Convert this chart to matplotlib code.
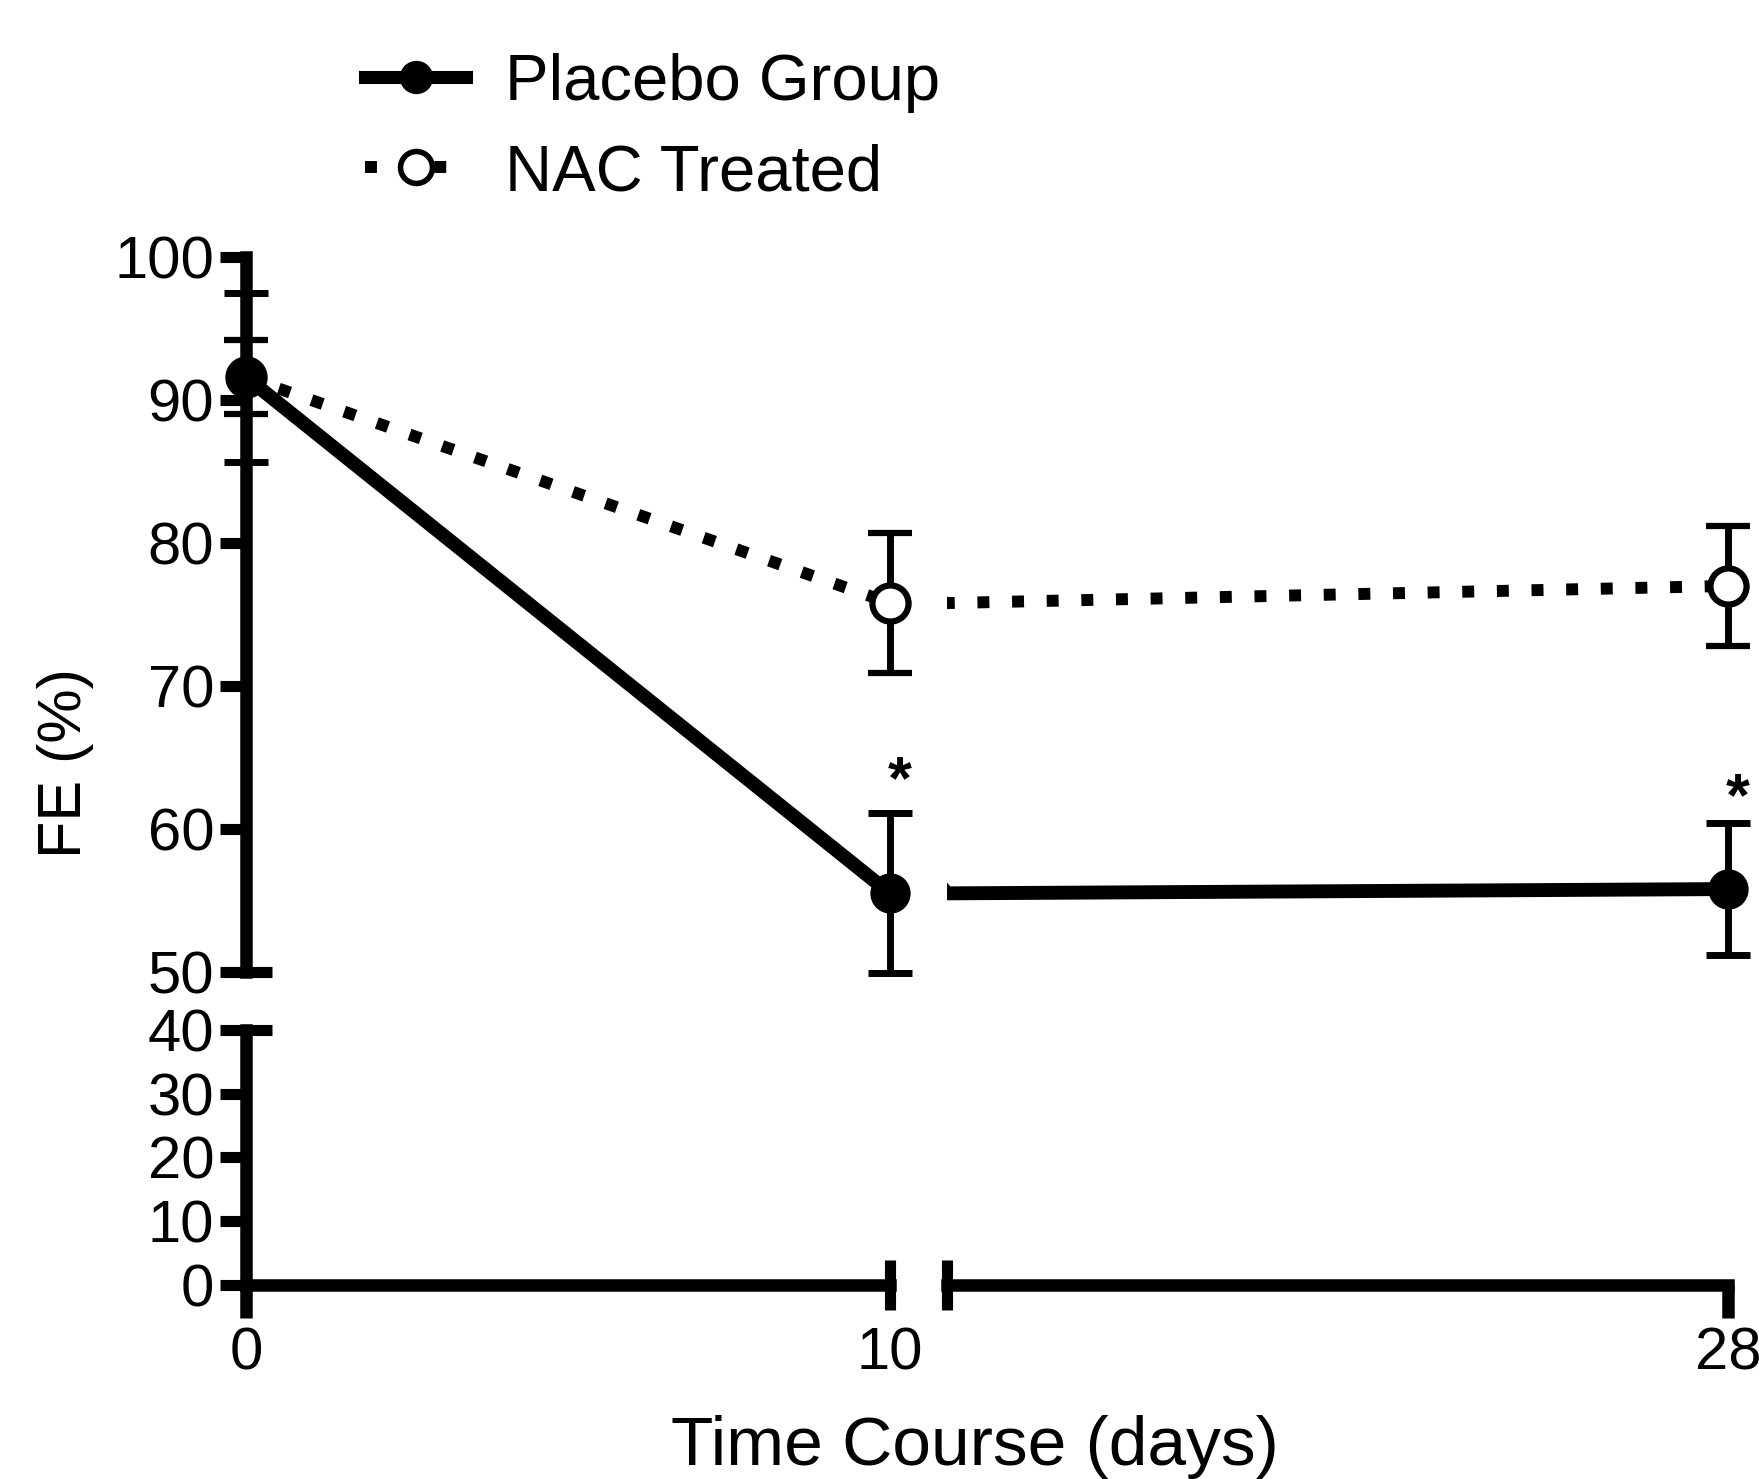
import matplotlib
matplotlib.use("Agg")
import matplotlib.pyplot as plt
from matplotlib.lines import Line2D

plt.rcParams['font.family'] = ['Liberation Sans', 'DejaVu Sans']

# data
days = [0, 10, 28]
placebo_mean = [91.6, 55.5, 55.8]
placebo_err = [5.9, 5.6, 4.6]
nac_mean = [91.6, 75.8, 77.0]
nac_err = [2.6, 4.9, 4.2]
labels = ['Placebo Group', 'NAC Treated']
sig_days = [10, 28]
sig_y = [64.4, 63.2]

W, H = 1759, 1479
fig = plt.figure(figsize=(W / 100, H / 100), dpi=100)

# broken axes: left/right x segments, upper/lower y segments
ax_ul = fig.add_axes([0.1399, 0.3428, 0.3661, 0.4834])
ax_ur = fig.add_axes([0.5384, 0.3428, 0.4440, 0.4834])
ax_ll = fig.add_axes([0.1399, 0.1312, 0.3661, 0.1724])
ax_lr = fig.add_axes([0.5384, 0.1312, 0.4440, 0.1724])

for ax in (ax_ul, ax_ur, ax_ll, ax_lr):
    ax.patch.set_visible(False)
    for s in ax.spines.values():
        s.set_visible(False)
        s.set_linewidth(9)
    ax.tick_params(left=False, bottom=False, labelleft=False, labelbottom=False)

ax_ul.set_xlim(0, 10)
ax_ll.set_xlim(0, 10)
ax_ur.set_xlim(10, 28)
ax_lr.set_xlim(10, 28)
ax_ul.set_ylim(50, 100)
ax_ur.set_ylim(50, 100)
ax_ll.set_ylim(0, 40)
ax_lr.set_ylim(0, 40)

# y axes
ax_ul.spines['left'].set_visible(True)
ax_ll.spines['left'].set_visible(True)
ax_ul.set_yticks([60, 70, 80, 90, 100])
ax_ul.set_yticks([50], labels=['50'], minor=True)
ax_ll.set_yticks([0, 10, 20, 30])
ax_ll.set_yticks([40], labels=['40'], minor=True)
for ax in (ax_ul, ax_ll):
    ax.tick_params(axis='y', which='major', left=True, labelleft=True, direction='out',
                   length=19, width=8, labelsize=43, pad=4)
    ax.tick_params(axis='y', which='minor', left=True, labelleft=True, direction='inout',
                   length=38, width=8, labelsize=43, pad=4)

# x axes
ax_ll.spines['bottom'].set_visible(True)
ax_lr.spines['bottom'].set_visible(True)
ax_ll.set_xticks([0])
ax_ll.set_xticks([10], labels=['10'], minor=True)
ax_lr.set_xticks([28])
ax_lr.set_xticks([10], labels=[''], minor=True)
for ax in (ax_ll, ax_lr):
    ax.tick_params(axis='x', which='major', bottom=True, labelbottom=True, direction='out',
                   length=24, width=9, labelsize=43, pad=6)
    ax.tick_params(axis='x', which='minor', bottom=True, labelbottom=True, direction='inout',
                   length=36, width=8, labelsize=43, pad=12)

# connecting lines (clipped at the break)
for ax in (ax_ul, ax_ur):
    ax.plot(days, nac_mean, color='k', lw=8.6, dashes=(1, 1.9), zorder=2)
    ax.plot(days, placebo_mean, color='k', lw=10, solid_capstyle='butt', zorder=3)

eb = dict(elinewidth=5, capsize=16, capthick=5, clip_on=False, ecolor='k')
for ax, idx in ((ax_ul, slice(0, 2)), (ax_ur, slice(2, 3))):
    ax.errorbar(days[idx], nac_mean[idx], yerr=nac_err[idx], fmt='o', ms=26,
                mfc='white', mec='k', mew=4.5, zorder=4, **eb)
    ax.errorbar(days[idx], placebo_mean[idx], yerr=placebo_err[idx], fmt='o', ms=28,
                mfc='k', mec='k', zorder=5, **eb)

for d, y in zip(sig_days, sig_y):
    ax = ax_ul if d <= 10 else ax_ur
    ax.annotate('*', xy=(d, y), xytext=(7, -23), textcoords='offset points',
                ha='center', va='baseline', fontsize=44, fontweight='bold',
                annotation_clip=False)

# legend
h1 = Line2D([], [], color='k', lw=9.4, marker='o', ms=23, mfc='k', mec='k')
h2 = Line2D([], [], color='k', lw=8.6, dashes=(1, 1.9), marker='o', ms=23,
            mfc='white', mec='k', mew=4)
fig.legend([h1, h2], labels, loc='center left', bbox_to_anchor=(365 / W, 1 - 128 / H),
           frameon=False, fontsize=47, handlelength=1.55, handletextpad=0.6,
           borderpad=0, borderaxespad=0, labelspacing=0.47)

fig.text(65 / W, 1 - 763 / H, 'FE (%)', rotation=90, ha='center', va='center', fontsize=44)
fig.text(975 / W, 1 - 1447 / H, 'Time Course (days)', ha='center', va='center', fontsize=50)

fig.savefig('out.png', dpi=100)
